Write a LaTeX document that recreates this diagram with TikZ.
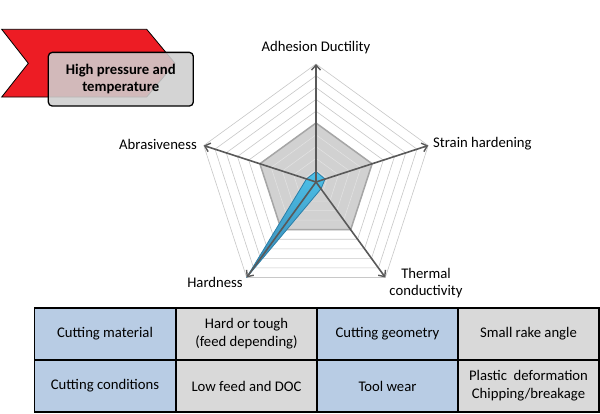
\documentclass[tikz,border=0pt]{standalone}
\usepackage{fontspec}
\setmainfont{Carlito}
\usetikzlibrary{arrows.meta,calc}
\definecolor{axisgray}{HTML}{595959}
\definecolor{gridgray}{HTML}{C8C8C8}
\definecolor{gridlight}{HTML}{E2E2E2}
\definecolor{polygray}{HTML}{CDCDCD}
\definecolor{polyedge}{HTML}{A6A6A6}
\definecolor{cellblue}{HTML}{B8CCE4}
\definecolor{cellgray}{HTML}{D9D9D9}
\definecolor{bannerred}{HTML}{ED1C24}
\definecolor{boxgray}{HTML}{CFCFCF}
\definecolor{spiketop}{HTML}{4CC0E8}
\definecolor{spikebot}{HTML}{3A86B2}
\definecolor{spikeedge}{HTML}{2B7FA8}
\tikzset{
  gridline/.style={draw=gridgray, line width=0.6pt},
  gridinner/.style={draw=gridlight, line width=0.6pt},
  axisline/.style={draw=axisgray, line width=1.6pt, -{Straight Barb[length=5pt,width=9pt,line width=1.4pt]}},
  lbl/.style={inner sep=0pt, font=\fontsize{14.7}{17.7}\selectfont},
  cell/.style={draw=black, line width=1.3pt, minimum width=141pt, minimum height=52pt, inner sep=0pt, align=center, font=\fontsize{14.7}{17.7}\selectfont},
  bluecell/.style={cell, fill=cellblue},
  graycell/.style={cell, fill=cellgray},
  hpbox/.style={draw=black, line width=1.3pt, rounded corners=4pt, fill=boxgray, fill opacity=0.88, text opacity=1, minimum width=145pt, minimum height=53.7pt, inner sep=0pt, align=center, font=\bfseries\fontsize{14.7}{17.3}\selectfont}
}
\begin{document}
\begin{tikzpicture}[x=1pt,y=-1pt]
\useasboundingbox (0,0) rectangle (600,413);
\fill[white] (0,0) rectangle (600,413);

% banner
\filldraw[fill=bannerred, draw=black, line width=0.8pt] (1.7,29.3) -- (146.7,29.3) -- (175,63.3) -- (146.7,97) -- (1.7,97) -- (28.3,63.3) -- cycle;
\node[hpbox] (hp) at (120.8,79.2) {High pressure and\\temperature};

% radar chart
\coordinate (c) at (316,182);
\foreach \k in {1,...,10} {
  \pgfmathsetmacro\r{\k*11.8}
  \draw[gridline] ($(c)+(90:\r pt)$) -- ($(c)+(18:\r pt)$) -- ($(c)+(-54:\r pt)$) -- ($(c)+(-126:\r pt)$) -- ($(c)+(162:\r pt)$) -- cycle;
}
% gray data polygon
\fill[polygray, fill opacity=0.9] ($(c)+(90:59pt)$) -- ($(c)+(18:59pt)$) -- ($(c)+(-54:59pt)$) -- ($(c)+(-126:59pt)$) -- ($(c)+(162:59pt)$) -- cycle;
\foreach \k in {1,...,4} {
  \pgfmathsetmacro\r{\k*11.8}
  \draw[gridinner] ($(c)+(90:\r pt)$) -- ($(c)+(18:\r pt)$) -- ($(c)+(-54:\r pt)$) -- ($(c)+(-126:\r pt)$) -- ($(c)+(162:\r pt)$) -- cycle;
}
\draw[polyedge, line width=1.5pt, line join=round] ($(c)+(90:59pt)$) -- ($(c)+(18:59pt)$) -- ($(c)+(-54:59pt)$) -- ($(c)+(-126:59pt)$) -- ($(c)+(162:59pt)$) -- cycle;
% blue data polygon
\path[draw=spikeedge, line width=0.8pt, line join=round, top color=spiketop, bottom color=spikebot]
  ($(c)+(90:10.5pt)$) -- ($(c)+(18:9.5pt)$) -- ($(c)+(-54:8.5pt)$) -- ($(c)+(-126:118pt)$) -- ($(c)+(162:10pt)$) -- cycle;

% axes
\coordinate (t1) at ($(c)+(90:118pt)$);
\coordinate (t2) at ($(c)+(18:118pt)$);
\coordinate (t3) at ($(c)+(-54:118pt)$);
\coordinate (t4) at ($(c)+(-126:118pt)$);
\coordinate (t5) at ($(c)+(162:118pt)$);
\foreach \t in {t1,t2,t3,t4,t5} { \draw[axisline] (c) -- (\t); }

% labels
\node[lbl] (l1) at (316,48) {Adhesion Ductility};
\node[lbl, anchor=west] (l2) at (433,144) {Strain hardening};
\node[lbl, align=center] (l3) at (426,283) {Thermal\\conductivity};
\node[lbl] (l4) at (215,282) {Hardness};
\node[lbl, anchor=east] (l5) at (197,144) {Abrasiveness};

% table
\node[bluecell] (c11) at (105,334) {Cutting material};
\node[graycell] (c12) at (246.5,334) {Hard or tough\\(feed depending)};
\node[bluecell] (c13) at (387.5,334) {Cutting geometry};
\node[graycell] (c14) at (528.5,334) {Small rake angle};
\node[bluecell] (c21) at (105,386) {Cutting conditions};
\node[graycell] (c22) at (246.5,386) {Low feed and DOC};
\node[bluecell] (c23) at (387.5,386) {Tool wear};
\node[graycell] (c24) at (528.5,386) {Plastic\ \ deformation\\Chipping/breakage};
\end{tikzpicture}
\end{document}
